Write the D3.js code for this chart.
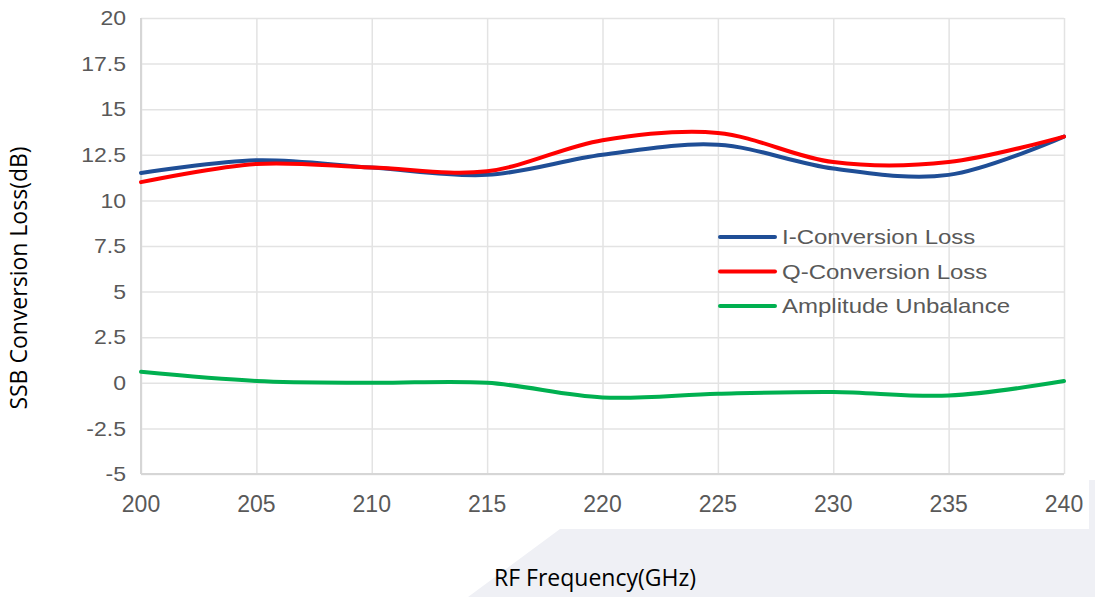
<!DOCTYPE html>
<html>
<head>
<meta charset="utf-8">
<script src="https://cdn.jsdelivr.net/npm/d3@7"></script>
<style>
  body { margin: 0; background: #fff; }
  svg { display: block; }
</style>
</head>
<body>
<div id="chart"></div>
<script>
// data
var freq = [200, 205, 210, 215, 220, 225, 230, 235, 240];
var iLoss = [11.5, 12.2, 11.8, 11.4, 12.5, 13.05, 11.75, 11.4, 13.5];
var qLoss = [11.0, 12.0, 11.8, 11.6, 13.3, 13.7, 12.1, 12.1, 13.5];
var ampUnbal = [0.6, 0.1, 0.0, 0.0, -0.8, -0.6, -0.5, -0.7, 0.1];
var yTicks = [-5, -2.5, 0, 2.5, 5, 7.5, 10, 12.5, 15, 17.5, 20];
var xTicks = [200, 205, 210, 215, 220, 225, 230, 235, 240];
var seriesNames = ["I-Conversion Loss", "Q-Conversion Loss", "Amplitude Unbalance"];

var w = 1095, h = 597;
var mLeft = 141, mRight = 1064, mTop = 18, mBottom = 474;

var svg = d3.select("#chart").append("svg")
    .attr("width", w)
    .attr("height", h);

// light gray backdrop behind the x title
svg.append("path")
    .attr("d", "M560,529 L1089,529 L1089,480 L1095,480 L1095,597 L468,597 Z")
    .attr("fill", "#eff0f5");

var x = d3.scaleLinear().domain([200, 240]).range([mLeft, mRight]);
var y = d3.scaleLinear().domain([-5, 20]).range([mBottom, mTop]);

// grid
svg.append("g")
    .attr("transform", "translate(0," + mBottom + ")")
    .call(d3.axisBottom(x).tickValues(xTicks).tickSize(-(mBottom - mTop)).tickFormat(""))
    .call(function(g) { g.select(".domain").remove(); })
    .selectAll("line").attr("stroke", "#e3e3e3").attr("stroke-width", 1.5);

svg.append("g")
    .attr("transform", "translate(" + mLeft + ",0)")
    .call(d3.axisLeft(y).tickValues(yTicks).tickSize(-(mRight - mLeft)).tickFormat(""))
    .call(function(g) { g.select(".domain").remove(); })
    .selectAll("line").attr("stroke", "#e3e3e3").attr("stroke-width", 1.5);

// axis lines
svg.append("line").attr("x1", mLeft).attr("x2", mLeft).attr("y1", mTop).attr("y2", mBottom)
    .attr("stroke", "#d6d6d6").attr("stroke-width", 2);
svg.append("line").attr("x1", mLeft).attr("x2", mRight).attr("y1", mBottom).attr("y2", mBottom)
    .attr("stroke", "#d6d6d6").attr("stroke-width", 2);

// tick labels (the source picture is a bit stretched sideways)
svg.selectAll(".ylab").data(yTicks).enter().append("text")
    .attr("class", "ylab")
    .attr("transform", function(d) { return "translate(126," + y(d) + ") scale(1.15,1)"; })
    .attr("dy", "0.36em")
    .attr("text-anchor", "end")
    .attr("font-family", "Liberation Sans, Arial, sans-serif")
    .attr("font-size", "20px")
    .attr("fill", "#595959")
    .text(function(d) { return d; });

svg.selectAll(".xlab").data(xTicks).enter().append("text")
    .attr("class", "xlab")
    .attr("x", function(d) { return x(d); })
    .attr("y", 512)
    .attr("text-anchor", "middle")
    .attr("font-family", "Liberation Sans, Arial, sans-serif")
    .attr("font-size", "23px")
    .attr("fill", "#595959")
    .text(function(d) { return d; });

// axis titles
svg.append("text")
    .attr("x", 595)
    .attr("y", 586)
    .attr("text-anchor", "middle")
    .attr("font-family", "Open Sans, sans-serif")
    .attr("font-size", "23px")
    .attr("fill", "#000")
    .text("RF Frequency(GHz)");

svg.append("text")
    .attr("transform", "translate(27,278) rotate(-90)")
    .attr("text-anchor", "middle")
    .attr("font-family", "Open Sans, sans-serif")
    .attr("font-size", "23px")
    .attr("fill", "#000")
    .text("SSB Conversion Loss(dB)");

// lines
var series = [
    {name: seriesNames[0], values: iLoss, color: "#1f4e96"},
    {name: seriesNames[1], values: qLoss, color: "#ff0000"},
    {name: seriesNames[2], values: ampUnbal, color: "#00b050"}
];

var line = d3.line()
    .x(function(d) { return x(d[0]); })
    .y(function(d) { return y(d[1]); })
    .curve(d3.curveCatmullRom.alpha(0.5));

series.forEach(function(s) {
    svg.append("path")
        .datum(freq.map(function(f, i) { return [f, s.values[i]]; }))
        .attr("d", line)
        .attr("fill", "none")
        .attr("stroke", s.color)
        .attr("stroke-width", 4)
        .attr("stroke-linecap", "round");
});

// legend
var leg = svg.append("g").attr("transform", "translate(720,237)");
series.forEach(function(s, i) {
    leg.append("line")
        .attr("x1", 0).attr("x2", 55)
        .attr("y1", i * 34.5).attr("y2", i * 34.5)
        .attr("stroke", s.color)
        .attr("stroke-width", 4)
        .attr("stroke-linecap", "round");
    leg.append("text")
        .attr("transform", "translate(62," + (i * 34.5) + ") scale(1.2,1)")
        .attr("dy", "0.36em")
        .attr("font-family", "Liberation Sans, Arial, sans-serif")
        .attr("font-size", "20px")
        .attr("fill", "#595959")
        .text(s.name);
});
</script>
</body>
</html>
